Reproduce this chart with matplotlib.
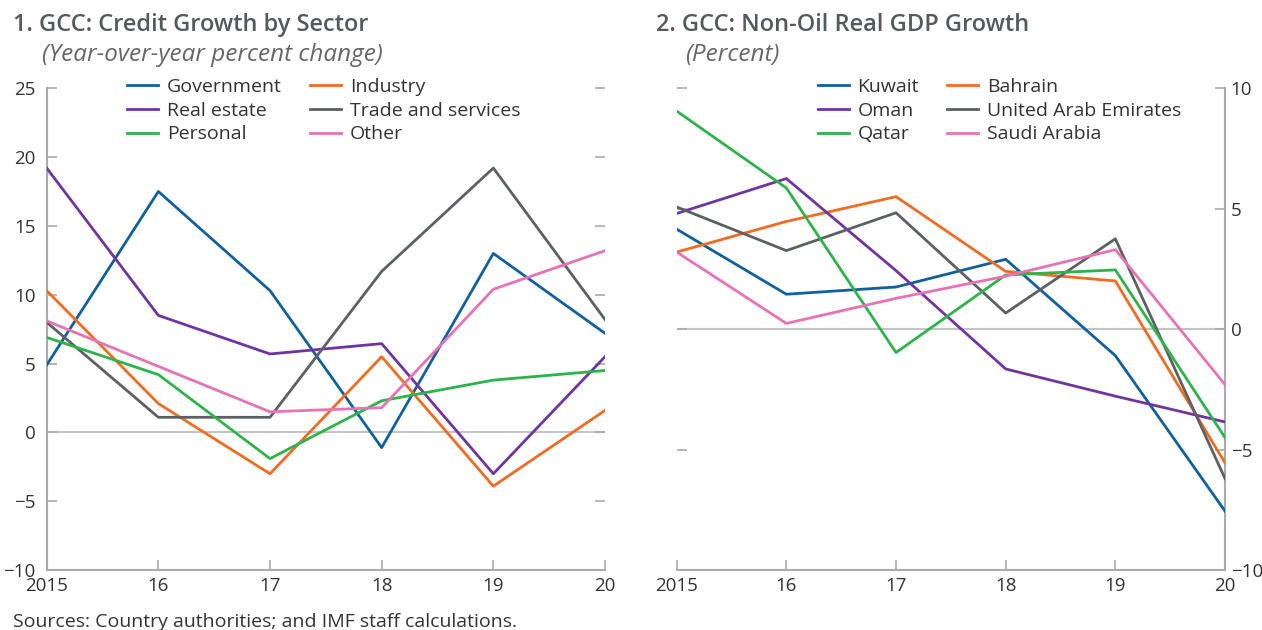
import numpy as np
import matplotlib.pyplot as plt

plt.rcParams['font.family'] = ['Open Sans', 'DejaVu Sans']

# Data
years = [2015, 2016, 2017, 2018, 2019, 2020]
year_labels = ['2015', '16', '17', '18', '19', '20']

# Panel 1: credit growth by sector (yoy percent change)
government = [4.9, 17.5, 10.3, -1.1, 13.0, 7.2]
industry = [10.3, 2.1, -3.0, 5.5, -3.9, 1.6]
real_estate = [19.2, 8.5, 5.7, 6.45, -3.0, 5.5]
trade_services = [8.0, 1.1, 1.1, 11.7, 19.2, 8.2]
personal = [6.9, 4.2, -1.9, 2.3, 3.8, 4.5]
other = [8.1, 4.8, 1.5, 1.8, 10.4, 13.2]

# Panel 2: non-oil real GDP growth (percent)
kuwait = [4.15, 1.45, 1.75, 2.9, -1.1, -7.55]
bahrain = [3.2, 4.47, 5.5, 2.4, 2.0, -5.55]
oman = [4.8, 6.25, 2.43, -1.65, -2.78, -3.85]
uae = [5.07, 3.26, 4.83, 0.67, 3.75, -6.2]
qatar = [9.05, 5.86, -0.97, 2.25, 2.46, -4.5]
saudi = [3.2, 0.24, 1.28, 2.2, 3.3, -2.3]

BLUE = '#10609f'
ORANGE = '#f36b21'
PURPLE = '#7034a0'
GRAY = '#5d6063'
GREEN = '#2cb34a'
PINK = '#e872b3'
AXCOL = '#aaaaaa'
TXT = '#333333'

fig = plt.figure(figsize=(12.62, 6.30), dpi=100)
ax1 = fig.add_axes([0.037, 0.095, 0.4424, 0.765])
ax2 = fig.add_axes([0.5362, 0.095, 0.4345, 0.765])


def style(ax, right):
    ax.set_xlim(2015, 2020)
    ax.set_xticks(years)
    ax.set_xticklabels(year_labels)
    ax.axhline(0, color='#c4c4c4', lw=1.5, zorder=1)
    for s in ['top', 'left', 'right']:
        ax.spines[s].set_visible(False)
    ax.spines['bottom'].set_color(AXCOL)
    ax.spines['bottom'].set_linewidth(1.5)
    side = 'right' if right else 'left'
    ax.spines[side].set_visible(True)
    ax.spines[side].set_color(AXCOL)
    ax.spines[side].set_linewidth(1.5)
    ax.tick_params(axis='x', direction='in', length=7, width=1.2, color=AXCOL,
                   labelsize=13.5, labelcolor=TXT, pad=5)
    ax.tick_params(axis='y', direction='in', length=7, width=1.2, color=AXCOL,
                   labelsize=13.5, labelcolor=TXT, left=True, right=True,
                   labelleft=not right, labelright=right, pad=4 if right else 8)


leg_kw = dict(ncol=2, frameon=False, loc='upper left', fontsize=14,
              handlelength=1.6, handletextpad=0.45, columnspacing=1.45,
              labelspacing=0.3, labelcolor=TXT)

# ---- Panel 1
series1 = [(government, 'Government', BLUE), (industry, 'Industry', ORANGE),
           (real_estate, 'Real estate', PURPLE), (trade_services, 'Trade and services', GRAY),
           (personal, 'Personal', GREEN), (other, 'Other', PINK)]
lines1 = {}
for vals, name, col in series1:
    lines1[name], = ax1.plot(years, vals, color=col, lw=2, label=name, zorder=3)
ax1.set_ylim(-10, 25)
ax1.set_yticks(np.arange(-10, 26, 5))
style(ax1, right=False)
order1 = ['Government', 'Real estate', 'Personal', 'Industry', 'Trade and services', 'Other']
ax1.legend([lines1[n] for n in order1], order1,
           bbox_to_anchor=(0.113, 1.058), **leg_kw)

# ---- Panel 2
series2 = [(kuwait, 'Kuwait', BLUE), (bahrain, 'Bahrain', ORANGE),
           (oman, 'Oman', PURPLE), (uae, 'United Arab Emirates', GRAY),
           (qatar, 'Qatar', GREEN), (saudi, 'Saudi Arabia', PINK)]
lines2 = {}
for vals, name, col in series2:
    lines2[name], = ax2.plot(years, vals, color=col, lw=2, label=name, zorder=3)
ax2.set_ylim(-10, 10)
ax2.set_yticks(np.arange(-10, 11, 5))
style(ax2, right=True)
order2 = ['Kuwait', 'Oman', 'Qatar', 'Bahrain', 'United Arab Emirates', 'Saudi Arabia']
ax2.legend([lines2[n] for n in order2], order2,
           bbox_to_anchor=(0.225, 1.058), **leg_kw)

# ---- Titles and source
fig.text(0.010, 0.960, '1. GCC: Credit Growth by Sector', fontsize=17,
         fontweight='semibold', color='#55595c', va='center')
fig.text(0.033, 0.913, '(Year-over-year percent change)', fontsize=17.5,
         style='italic', color='#666666', va='center')
fig.text(0.520, 0.960, '2. GCC: Non-Oil Real GDP Growth', fontsize=17,
         fontweight='semibold', color='#55595c', va='center')
fig.text(0.543, 0.913, '(Percent)', fontsize=17.5,
         style='italic', color='#666666', va='center')
fig.text(0.010, 0.012, 'Sources: Country authorities; and IMF staff calculations.',
         fontsize=14, color=TXT, va='center')

fig.savefig('out.png', dpi=100)
